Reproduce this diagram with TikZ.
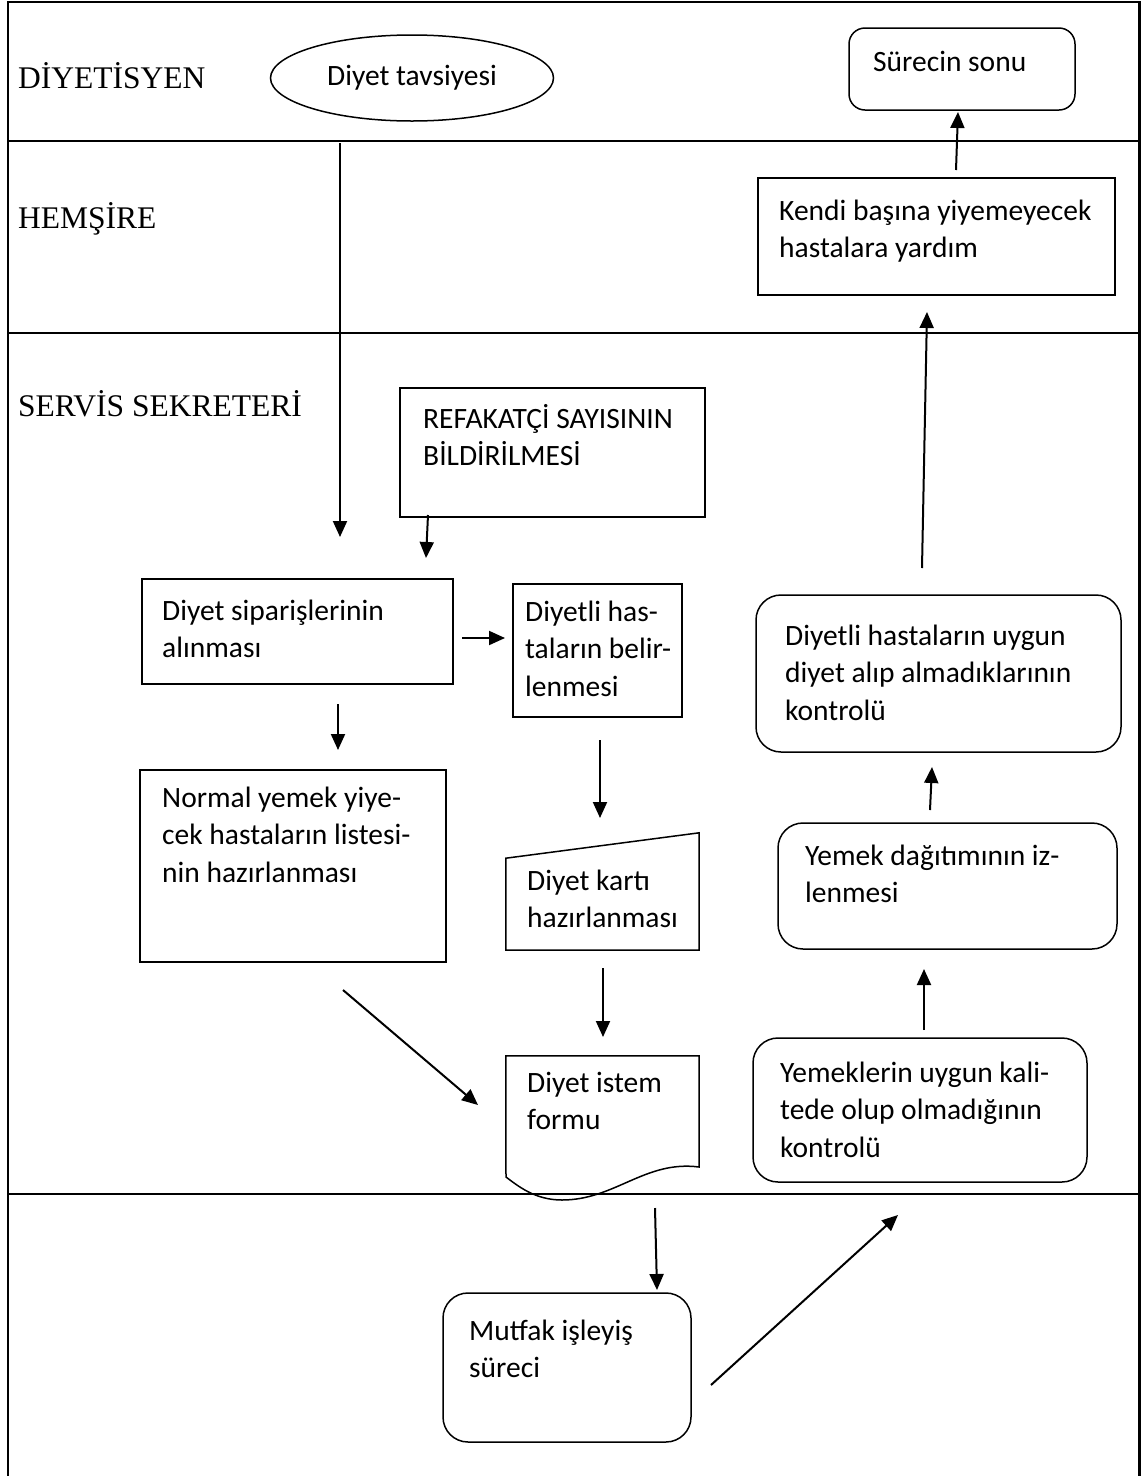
\documentclass[tikz,border=0pt]{standalone}
\usepackage{fontspec}
\setmainfont{Carlito}
\newfontfamily\lanefont{Liberation Serif}
\usetikzlibrary{shapes.geometric,arrows.meta,calc}
\begin{document}
\begin{tikzpicture}[x=1pt,y=-1pt,
  lane/.style={line width=2.4pt},
  boxr/.style={draw, line width=1.5pt, inner sep=0pt},
  ghost/.style={inner sep=0pt},
  txt/.style={font=\fontsize{29.5}{37.5}\selectfont, align=left, anchor=base west, inner sep=0pt},
  lanetxt/.style={font=\lanefont\fontsize{31.5}{38}\selectfont, anchor=base west, inner sep=0pt},
  arr/.style={line width=2pt, -{Triangle[length=16pt,width=14pt]}}]
\useasboundingbox (0,0) rectangle (1141,1476);
\fill[white] (0,0) rectangle (1141,1476);
% frame and lanes
\draw[lane] (8,1480) -- (8,2) -- (1139.5,2) -- (1139.5,1480);
\draw[lane] (8,141) -- (1139.5,141);
\draw[lane] (8,333) -- (1139.5,333);
\draw[lane] (8,1194) -- (1139.5,1194);
\node[lanetxt] (l1) at (18,88) {DİYETİSYEN};
\node[lanetxt] (l2) at (18,228) {HEMŞİRE};
\node[lanetxt] (l3) at (18,416) {SERVİS SEKRETERİ};
% nodes (multi-line text: base anchor sits on the last line)
\node[draw, ellipse, line width=1.5pt, minimum width=283pt, minimum height=86pt, inner sep=0pt,
      font=\fontsize{29.5}{37.5}\selectfont] (tavs) at (412,78) {\raisebox{6pt}{Diyet tavsiyesi}};
\node[boxr, rounded corners=16pt, minimum width=226pt, minimum height=82pt] (son) at (962,69) {};
\node[txt] (sont) at (873,71) {Sürecin sonu};
\node[boxr, minimum width=357pt, minimum height=117pt] (kendi) at (936.5,236.5) {};
\node[txt] (kendit) at (779,257.5) {Kendi başına yiyemeyecek\\hastalara yardım};
\node[boxr, minimum width=305pt, minimum height=129pt] (ref) at (552.5,452.5) {};
\node[txt] (reft) at (423,465.5) {REFAKATÇİ SAYISININ\\BİLDİRİLMESİ};
\node[boxr, minimum width=311pt, minimum height=105pt] (sip) at (297.5,631.5) {};
\node[txt] (sipt) at (162,657.5) {Diyet siparişlerinin\\alınması};
\node[boxr, minimum width=169pt, minimum height=133pt] (has) at (597.5,650.5) {};
\node[txt] (hast) at (525,696) {Diyetli has-\\taların belir-\\lenmesi};
\node[boxr, minimum width=306pt, minimum height=192pt] (norm) at (293,866) {};
\node[txt] (normt) at (162,882) {Normal yemek yiye-\\cek hastaların listesi-\\nin hazırlanması};
\node[ghost, minimum width=193pt, minimum height=117pt] (card) at (602.5,891.5) {};
\draw[line width=1.5pt] (card.south west) -- ++(0,-92) -- (card.north east) -- (card.south east) -- cycle;
\node[txt] (cardt) at (527,927.5) {Diyet kartı\\hazırlanması};
\node[ghost, minimum width=193pt, minimum height=144pt] (form) at (602.5,1128) {};
\draw[line width=1.5pt] (form.north west) -- (form.north east) -- (699,1167)
  .. controls (645,1160) and (615,1200) .. (562,1200)
  .. controls (535,1200) and (518,1186) .. (506,1177) -- cycle;
\node[txt] (formt) at (527,1129.5) {Diyet istem\\formu};
\node[boxr, rounded corners=25pt, minimum width=365pt, minimum height=157pt] (uyg) at (938.5,673.5) {};
\node[txt] (uygt) at (785,720) {Diyetli hastaların uygun\\diyet alıp almadıklarının\\kontrolü};
\node[boxr, rounded corners=25pt, minimum width=339pt, minimum height=126pt] (dag) at (947.5,886) {};
\node[txt] (dagt) at (805,902.5) {Yemek dağıtımının iz-\\lenmesi};
\node[boxr, rounded corners=25pt, minimum width=334pt, minimum height=144pt] (yem) at (920,1110) {};
\node[txt] (yemt) at (780,1157) {Yemeklerin uygun kali-\\tede olup olmadığının\\kontrolü};
\node[boxr, rounded corners=25pt, minimum width=248pt, minimum height=149pt] (mut) at (567,1367.5) {};
\node[txt] (mutt) at (469,1377.5) {Mutfak işleyiş\\süreci};
% connector end points
\coordinate (a1s) at (340,143);  \coordinate (a1e) at (340,537);
\coordinate (a2s) at (428,515);  \coordinate (a2e) at (426,558);
\coordinate (a3s) at (462,638);  \coordinate (a3e) at (505,638);
\coordinate (a4s) at (338,704);  \coordinate (a4e) at (338,750);
\coordinate (a5s) at (600,740);  \coordinate (a5e) at (600,818);
\coordinate (a6s) at (603,968);  \coordinate (a6e) at (603,1037);
\coordinate (a7s) at (343,990);  \coordinate (a7e) at (478,1105);
\coordinate (a8s) at (655,1208); \coordinate (a8e) at (657,1290);
\coordinate (a9s) at (711,1385); \coordinate (a9e) at (898,1215);
\coordinate (a10s) at (924,1030); \coordinate (a10e) at (924,969);
\coordinate (a11s) at (930,810); \coordinate (a11e) at (932,767);
\coordinate (a12s) at (922,568); \coordinate (a12e) at (927,312);
\coordinate (a13s) at (956,170); \coordinate (a13e) at (958,112);
\foreach \i in {1,...,13} {\draw[arr] (a\i s) -- (a\i e);}
\end{tikzpicture}
\end{document}
